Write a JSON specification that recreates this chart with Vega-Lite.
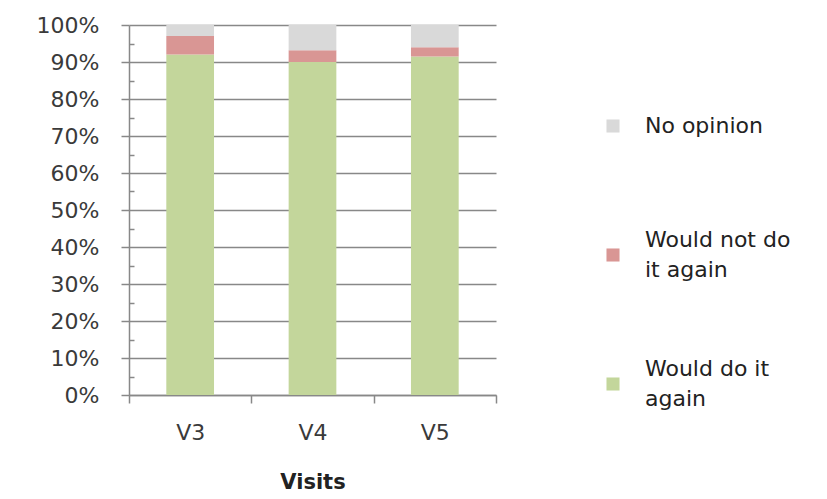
{
  "$schema": "https://vega.github.io/schema/vega-lite/v6.json",
  "width": 367,
  "height": 370,
  "autosize": {"type": "none"},
  "padding": {"left": 129, "top": 25, "right": 331, "bottom": 104},
  "background": "white",
  "config": {
    "font": "DejaVu Sans",
    "view": {"stroke": null}
  },
  "data": {
    "values": [
      {"visit": "V3", "answer": "Would do it again", "pct": 0.92},
      {"visit": "V3", "answer": "Would not do it again", "pct": 0.05},
      {"visit": "V3", "answer": "No opinion", "pct": 0.03},
      {"visit": "V4", "answer": "Would do it again", "pct": 0.90},
      {"visit": "V4", "answer": "Would not do it again", "pct": 0.032},
      {"visit": "V4", "answer": "No opinion", "pct": 0.068},
      {"visit": "V5", "answer": "Would do it again", "pct": 0.915},
      {"visit": "V5", "answer": "Would not do it again", "pct": 0.025},
      {"visit": "V5", "answer": "No opinion", "pct": 0.06}
    ]
  },
  "transform": [
    {"calculate": "indexof(['Would do it again', 'Would not do it again', 'No opinion'], datum.answer)", "as": "stackOrder"}
  ],
  "mark": {"type": "bar", "width": {"band": 0.39}},
  "encoding": {
    "x": {
      "field": "visit",
      "type": "nominal",
      "title": "Visits",
      "scale": {"paddingInner": 0, "paddingOuter": 0},
      "axis": {
        "labelAngle": 0,
        "tickBand": "extent",
        "tickSize": 8,
        "tickColor": "#888888",
        "tickWidth": 1.5,
        "domainColor": "#888888",
        "domainWidth": 1.5,
        "labelFont": "DejaVu Sans",
        "labelFontSize": 22,
        "labelColor": "#3a3a3a",
        "labelPadding": 19,
        "titleFont": "DejaVu Sans",
        "titleFontSize": 21,
        "titleFontWeight": "bold",
        "titleColor": "#222222",
        "titlePadding": 28
      }
    },
    "y": {
      "field": "pct",
      "type": "quantitative",
      "stack": "zero",
      "title": null,
      "scale": {"domain": [0, 1], "nice": false},
      "axis": {
        "values": [0, 0.05, 0.1, 0.15, 0.2, 0.25, 0.3, 0.35, 0.4, 0.45, 0.5, 0.55, 0.6, 0.65, 0.7, 0.75, 0.8, 0.85, 0.9, 0.95, 1],
        "labelExpr": "round(datum.value * 100) % 10 == 0 ? format(datum.value, '.0%') : ''",
        "labelOverlap": false,
        "grid": true,
        "gridColor": "#888888",
        "gridWidth": 1.5,
        "gridOpacity": {"condition": {"test": "round(datum.value * 100) % 10 != 0", "value": 0}, "value": 1},
        "domainColor": "#888888",
        "domainWidth": 1.5,
        "tickColor": "#888888",
        "tickWidth": 1.5,
        "tickSize": {"condition": {"test": "round(datum.value * 100) % 10 != 0", "value": -5}, "value": 8},
        "labelFont": "DejaVu Sans",
        "labelFontSize": 22,
        "labelColor": "#3a3a3a",
        "labelPadding": 22
      }
    },
    "order": {"field": "stackOrder", "type": "quantitative"},
    "color": {
      "field": "answer",
      "type": "nominal",
      "scale": {
        "domain": ["No opinion", "Would not do it again", "Would do it again"],
        "range": ["#d9d9d9", "#d99694", "#c3d69b"]
      },
      "legend": {
        "title": null,
        "orient": "none",
        "legendX": 473,
        "legendY": 90,
        "symbolType": "square",
        "symbolSize": 170,
        "symbolStrokeWidth": 0,
        "labelFont": "DejaVu Sans",
        "labelFontSize": 22,
        "labelColor": "#222222",
        "labelOffset": 21,
        "labelLimit": 300,
        "rowPadding": 77,
        "labelExpr": "datum.label == 'Would not do it again' ? ['Would not do', 'it again'] : datum.label == 'Would do it again' ? ['Would do it', 'again'] : ['', datum.label, '']",
        "encode": {
          "labels": {
            "update": {
              "lineHeight": {"signal": "datum.value == 'No opinion' ? 15 : 30"},
              "dy": {"value": -15}
            }
          }
        }
      }
    }
  }
}
